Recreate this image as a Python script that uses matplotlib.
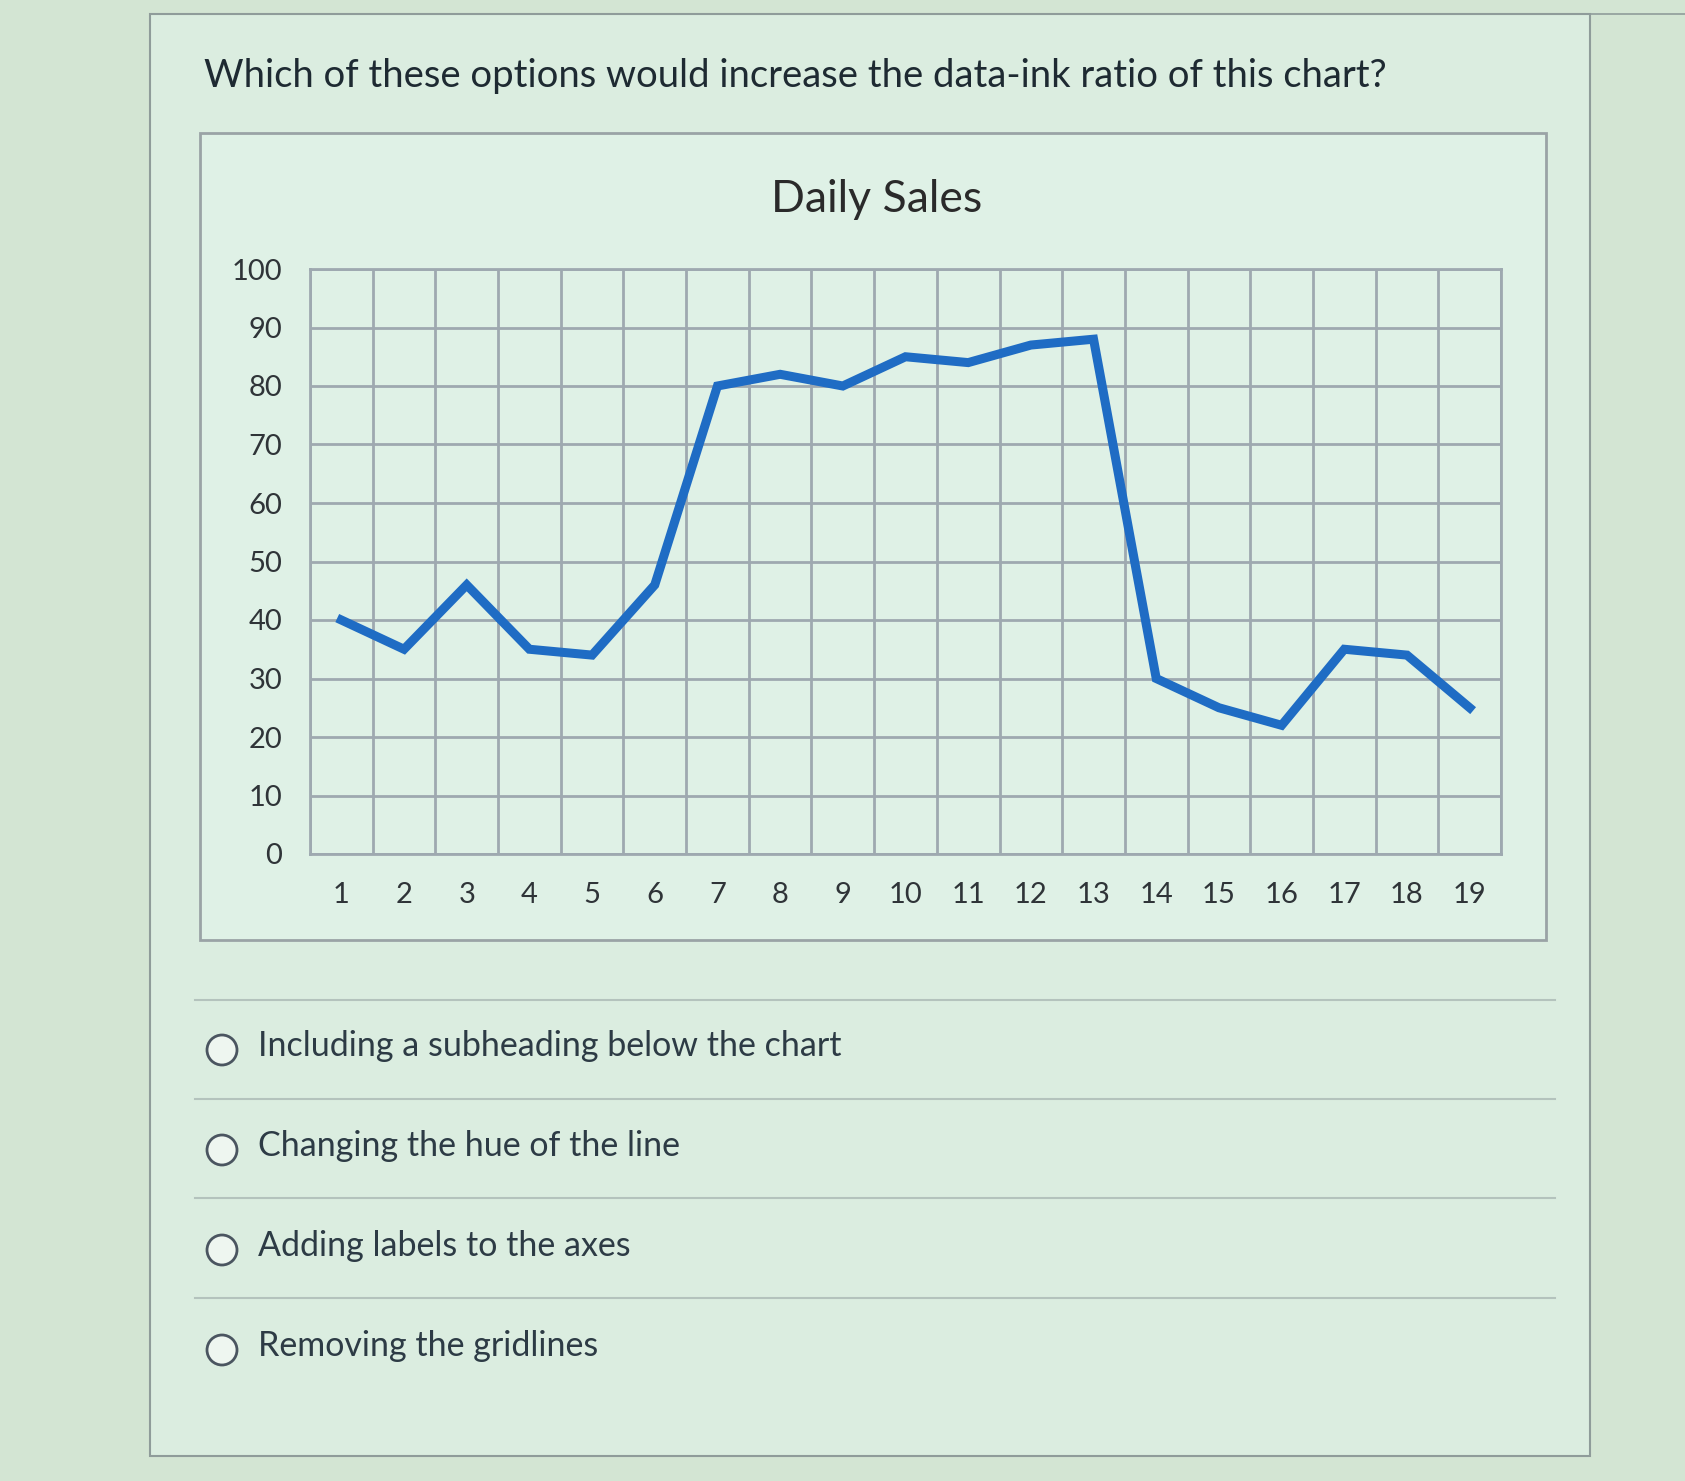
import matplotlib
matplotlib.use("Agg")
import matplotlib.pyplot as plt
from matplotlib.patches import Rectangle, Circle
from matplotlib.lines import Line2D

# Data
days = list(range(1, 20))
sales = [40, 35, 46, 35, 34, 46, 80, 82, 80, 85, 84, 87, 88, 30, 25, 22, 35, 34, 25]
y_ticks = list(range(0, 101, 10))

question = "Which of these options would increase the data-ink ratio of this chart?"
chart_title = "Daily Sales"
options = [
    "Including a subheading below the chart",
    "Changing the hue of the line",
    "Adding labels to the axes",
    "Removing the gridlines",
]

W, H = 1685, 1481
TEXT = "#2d3b45"
GRID = "#9ea9b0"
LINE = "#1f6cc4"

plt.rcParams["font.family"] = ["Lato", "DejaVu Sans"]


def fx(x):
    return x / W


def fy(y):
    return 1 - y / H


fig = plt.figure(figsize=(W / 100, H / 100), dpi=100)
fig.patch.set_facecolor("#d3e5d3")

# page panel
fig.patches.append(Rectangle((fx(150), fy(1456)), fx(1590) - fx(150), fy(14) - fy(1456),
                             transform=fig.transFigure, facecolor="#dbede0",
                             edgecolor="#8f9c9a", linewidth=1.5, zorder=0))
fig.lines.append(Line2D([fx(1590), fx(1685)], [fy(14), fy(14)], transform=fig.transFigure,
                        color="#8f9c9a", linewidth=1.2))

# question
fig.text(fx(204), fy(76), question, fontsize=27.5, color="#1e2a32",
         ha="left", va="center")

# chart box
fig.patches.append(Rectangle((fx(200), fy(940)), fx(1546) - fx(200), fy(133) - fy(940),
                             transform=fig.transFigure, facecolor="#dff1e6",
                             edgecolor="#9aa3a6", linewidth=2, zorder=0.5))
fig.text(fx(877), fy(199), chart_title, fontsize=32, color="#2a2a2a",
         ha="center", va="center")

# plot area
ax = fig.add_axes([fx(310), fy(854), fx(1501) - fx(310), fy(269) - fy(854)])
ax.set_zorder(2)
ax.set_facecolor("none")
ax.plot(days, sales, color=LINE, linewidth=6.5, solid_joinstyle="miter", zorder=3)
ax.set_xlim(0.5, 19.5)
ax.set_ylim(0, 100)
ax.set_yticks(y_ticks)
ax.set_xticks(days)
ax.set_xticks([d - 0.5 for d in days] + [19.5], minor=True)
ax.grid(axis="y", which="major", color=GRID, linewidth=2)
ax.grid(axis="x", which="minor", color=GRID, linewidth=2)
ax.tick_params(axis="both", which="both", length=0, labelsize=21, colors="#2f3438")
ax.tick_params(axis="x", pad=20)
ax.tick_params(axis="y", pad=20)
for s in ax.spines.values():
    s.set_color(GRID)
    s.set_linewidth(2)

# answer options
sep_y = [1000, 1099, 1198, 1298]
opt_y = [1050, 1150, 1250, 1350]
for y in sep_y:
    fig.lines.append(Line2D([fx(195), fx(1555)], [fy(y), fy(y)], transform=fig.transFigure,
                            color="#b4c3bd", linewidth=1.5))
for y, label in zip(opt_y, options):
    fig.patches.append(Circle((222 / 100, (H - y) / 100), 0.15,
                              transform=fig.dpi_scale_trans,
                              facecolor="#eef6f0", edgecolor="#4a5560", linewidth=2))
    fig.text(fx(258), fy(y - 4), label, fontsize=24.5, color=TEXT, ha="left", va="center")

fig.savefig("out.png", dpi=100, facecolor=fig.get_facecolor())
